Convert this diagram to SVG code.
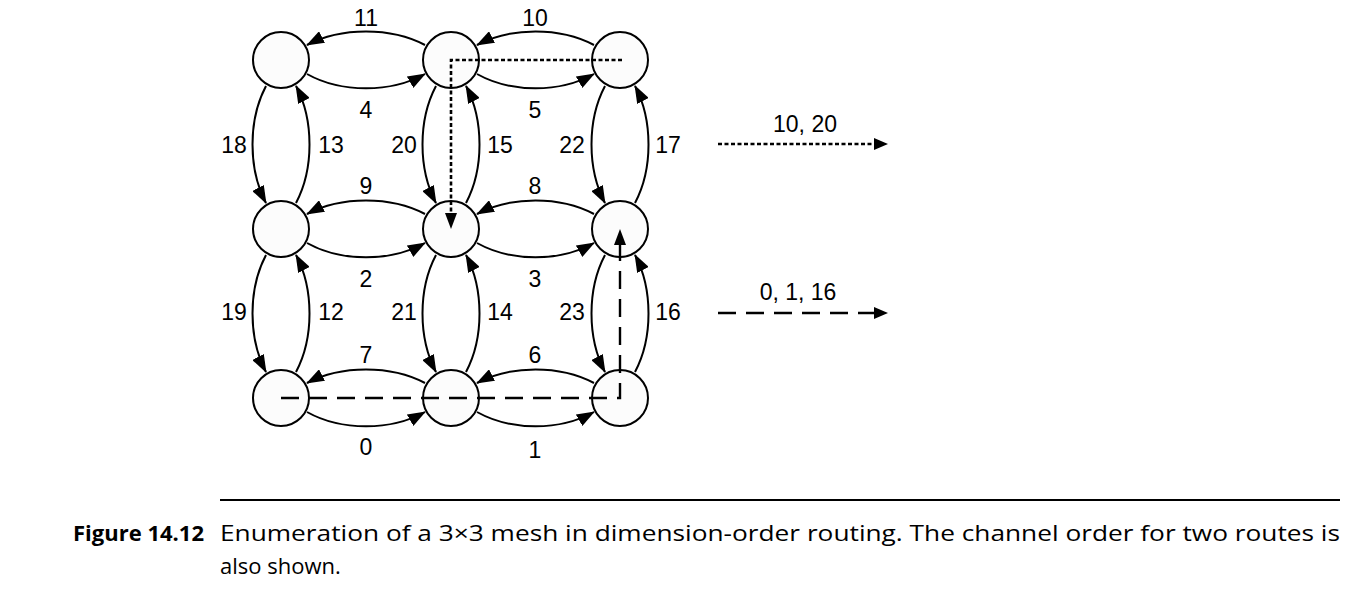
<svg xmlns="http://www.w3.org/2000/svg" width="1348" height="589" viewBox="0 0 1348 589">
<style>
.node{fill:#fcfcfc;stroke:#000;stroke-width:2}
.arc{fill:none;stroke:#000;stroke-width:2;marker-end:url(#ah)}
.lbl{font-family:"Liberation Sans",Arial,sans-serif;font-size:23px;fill:#000;text-anchor:middle}
.dot{fill:none;stroke:#000;stroke-width:2.6;stroke-dasharray:4 2.5}
.dash{fill:none;stroke:#000;stroke-width:2.4;stroke-dasharray:18 10}
.cap{font-family:"Open Sans","Noto Sans",sans-serif;font-size:22px;fill:#000}
</style>
<defs>
<marker id="ah" markerUnits="userSpaceOnUse" markerWidth="18" markerHeight="13" viewBox="0 0 18 13" refX="17" refY="6.5" orient="auto"><path d="M0,0 L18,6.5 L0,13 z" fill="#000"/></marker>
</defs>
<rect width="1348" height="589" fill="#fff"/>
<g id="n00"><circle class="node" cx="281" cy="60" r="28"/></g>
<g id="n01"><circle class="node" cx="451" cy="60" r="28"/></g>
<g id="n02"><circle class="node" cx="620" cy="60" r="28"/></g>
<g id="n10"><circle class="node" cx="281" cy="229" r="28"/></g>
<g id="n11"><circle class="node" cx="451" cy="229" r="28"/></g>
<g id="n12"><circle class="node" cx="620" cy="229" r="28"/></g>
<g id="n20"><circle class="node" cx="281" cy="398" r="28"/></g>
<g id="n21"><circle class="node" cx="451" cy="398" r="28"/></g>
<g id="n22"><circle class="node" cx="620" cy="398" r="28"/></g>
<g id="connectors">
<path class="arc" d="M425,45 C391,27 341,27 307,45"/>
<path class="arc" d="M307,74 C341,93 391,93 425,74"/>
<path class="arc" d="M594,45 C560,27 511,27 477,45"/>
<path class="arc" d="M477,74 C511,93 560,93 594,74"/>
<path class="arc" d="M425,214 C391,196 341,196 307,214"/>
<path class="arc" d="M307,243 C341,262 391,262 425,243"/>
<path class="arc" d="M594,214 C560,196 511,196 477,214"/>
<path class="arc" d="M477,243 C511,262 560,262 594,243"/>
<path class="arc" d="M425,383 C391,365 341,365 307,383"/>
<path class="arc" d="M307,412 C341,431 391,431 425,412"/>
<path class="arc" d="M594,383 C560,365 511,365 477,383"/>
<path class="arc" d="M477,412 C511,431 560,431 594,412"/>
<path class="arc" d="M266,86 C248,120 248,169 266,203"/>
<path class="arc" d="M296,203 C314,169 314,120 296,86"/>
<path class="arc" d="M266,255 C248,289 248,338 266,372"/>
<path class="arc" d="M296,372 C314,338 314,289 296,255"/>
<path class="arc" d="M436,86 C418,120 418,169 436,203"/>
<path class="arc" d="M466,203 C484,169 484,120 466,86"/>
<path class="arc" d="M436,255 C418,289 418,338 436,372"/>
<path class="arc" d="M466,372 C484,338 484,289 466,255"/>
<path class="arc" d="M605,86 C587,120 587,169 605,203"/>
<path class="arc" d="M635,203 C653,169 653,120 635,86"/>
<path class="arc" d="M605,255 C587,289 587,338 605,372"/>
<path class="arc" d="M635,372 C653,338 653,289 635,255"/>
<path class="dot" d="M622,60 H451 V214"/>
<path d="M451,229 L445,213 L457,213 z" fill="#000"/>
<path class="dash" d="M281,398 H620 V244"/>
<path d="M620,229 L614,245 L626,245 z" fill="#000"/>
<path class="dot" d="M718,144 H874"/>
<path d="M888,144 L874,138 L874,150 z" fill="#000"/>
<path class="dash" d="M718,313 H874"/>
<path d="M888,313 L874,307 L874,319 z" fill="#000"/>
</g>
<g id="labels">
<text class="lbl" x="366" y="26">11</text>
<text class="lbl" x="535" y="26">10</text>
<text class="lbl" x="366" y="118">4</text>
<text class="lbl" x="535" y="118">5</text>
<text class="lbl" x="366" y="194">9</text>
<text class="lbl" x="535" y="194">8</text>
<text class="lbl" x="366" y="287">2</text>
<text class="lbl" x="535" y="287">3</text>
<text class="lbl" x="366" y="363">7</text>
<text class="lbl" x="535" y="363">6</text>
<text class="lbl" x="366" y="455">0</text>
<text class="lbl" x="535" y="458">1</text>
<text class="lbl" x="234" y="153">18</text>
<text class="lbl" x="331" y="153">13</text>
<text class="lbl" x="404" y="153">20</text>
<text class="lbl" x="500" y="153">15</text>
<text class="lbl" x="572" y="153">22</text>
<text class="lbl" x="668" y="153">17</text>
<text class="lbl" x="234" y="320">19</text>
<text class="lbl" x="331" y="320">12</text>
<text class="lbl" x="404" y="320">21</text>
<text class="lbl" x="500" y="320">14</text>
<text class="lbl" x="572" y="320">23</text>
<text class="lbl" x="668" y="320">16</text>
<text class="lbl" x="805" y="132">10, 20</text>
<text class="lbl" x="798" y="300">0, 1, 16</text>
</g>
<g id="caption">
<line x1="220" y1="500" x2="1340" y2="500" stroke="#000" stroke-width="2"/>
<text class="cap" x="204" y="541" font-weight="bold" font-size="24" text-anchor="end">Figure 14.12</text>
<text class="cap" x="220" y="541" textLength="1120" lengthAdjust="spacingAndGlyphs">Enumeration of a 3×3 mesh in dimension-order routing. The channel order for two routes is</text>
<text class="cap" x="220" y="574">also shown.</text>
</g>
</svg>
